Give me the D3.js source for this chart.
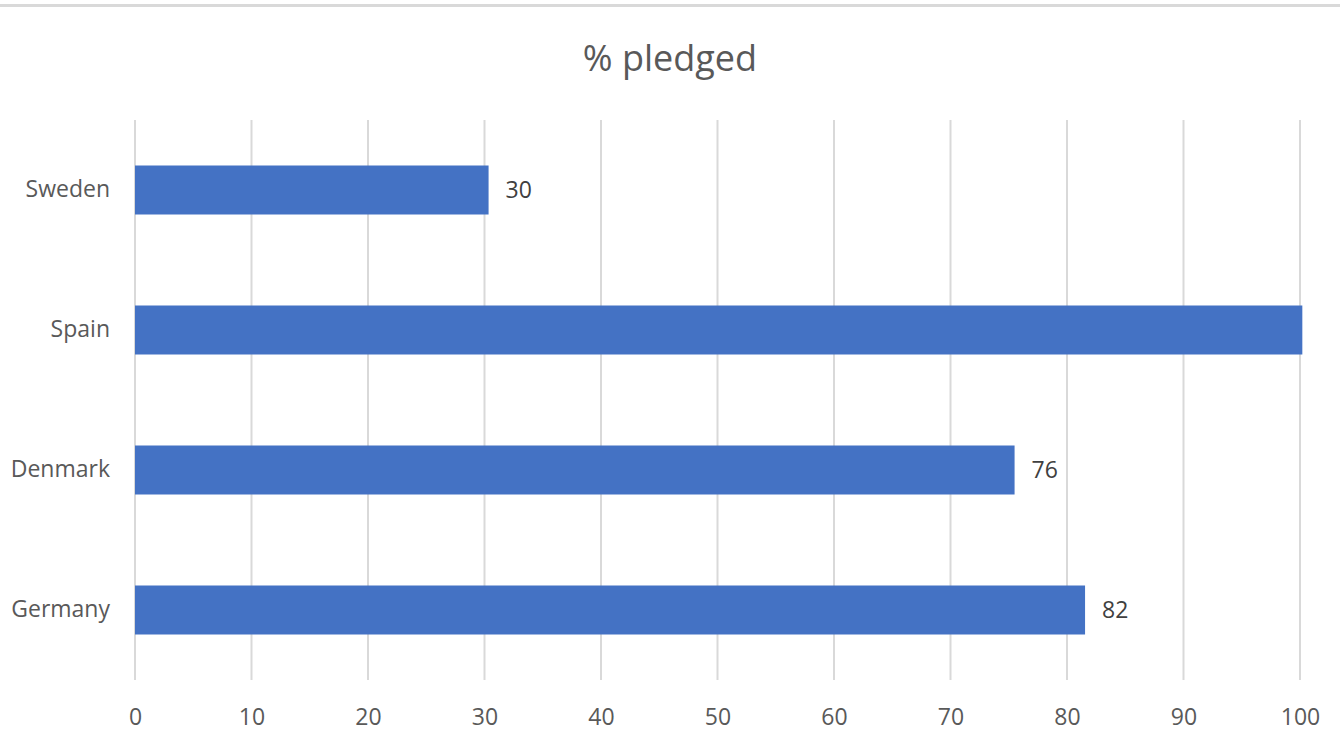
<!DOCTYPE html>
<html>
<head>
<meta charset="utf-8">
<script src="https://cdn.jsdelivr.net/npm/d3@7"></script>
<style>
  body { margin: 0; background: #fff; }
  svg { display: block; font-family: "Open Sans", "Noto Sans", sans-serif; }
</style>
</head>
<body>
<svg width="1340" height="748"></svg>
<script>
// data
const countries = ["Sweden", "Spain", "Denmark", "Germany"];
const pledged = [30.35, 100.2, 75.5, 81.55];
const xTicks = [0, 10, 20, 30, 40, 50, 60, 70, 80, 90, 100];
const title = "% pledged";

const width = 1340, height = 748;
const margin = {top: 120, right: 40, bottom: 68, left: 135};
const plotW = 1300 - margin.left;
const plotH = height - margin.top - margin.bottom;

const svg = d3.select("svg");

// grey rule along the top
svg.append("rect")
    .attr("x", 0).attr("y", 4)
    .attr("width", width).attr("height", 3)
    .attr("fill", "#d9d9d9");

svg.append("text")
    .attr("x", 670)
    .attr("y", 71)
    .attr("text-anchor", "middle")
    .attr("font-size", "36px")
    .attr("fill", "#595959")
    .text(title);

const g = svg.append("g")
    .attr("transform", `translate(${margin.left}, ${margin.top})`);

const x = d3.scaleLinear().domain([0, 100]).range([0, plotW]);
const y = d3.scaleBand().domain(countries).range([0, plotH]).paddingInner(0.65).paddingOuter(0.325);

// gridlines
g.selectAll("line.grid").data(xTicks).enter().append("line")
    .attr("class", "grid")
    .attr("x1", d => x(d)).attr("x2", d => x(d))
    .attr("y1", 0).attr("y2", plotH)
    .attr("stroke", "#d9d9d9")
    .attr("stroke-width", 2);

// x axis labels
const xAxis = g.append("g")
    .attr("transform", `translate(0, ${plotH})`)
    .call(d3.axisBottom(x).tickValues(xTicks).tickSize(0).tickPadding(29));
xAxis.select(".domain").remove();
xAxis.selectAll("text")
    .attr("font-size", "23px")
    .attr("font-family", "Open Sans, Noto Sans, sans-serif")
    .attr("fill", "#595959");

// y axis labels
const yAxis = g.append("g")
    .call(d3.axisLeft(y).tickSize(0).tickPadding(25));
yAxis.select(".domain").remove();
yAxis.selectAll("text")
    .attr("font-size", "23px")
    .attr("font-family", "Open Sans, Noto Sans, sans-serif")
    .attr("fill", "#595959");

const data = countries.map((c, i) => ({country: c, value: pledged[i]}));

// bars
g.selectAll("rect.bar").data(data).enter().append("rect")
    .attr("class", "bar")
    .attr("x", x(0))
    .attr("y", d => y(d.country))
    .attr("width", d => x(d.value) - x(0))
    .attr("height", y.bandwidth())
    .attr("fill", "#4472c4");

// value labels - the one that would fall past the plot edge is hidden, as in the original
g.selectAll("text.val").data(data.filter(d => x(d.value) + 17 < plotW)).enter().append("text")
    .attr("class", "val")
    .attr("x", d => x(d.value) + 17)
    .attr("y", d => y(d.country) + y.bandwidth() / 2)
    .attr("dy", "0.35em")
    .attr("font-size", "23px")
    .attr("fill", "#404040")
    .text(d => Math.round(d.value));
</script>
</body>
</html>
